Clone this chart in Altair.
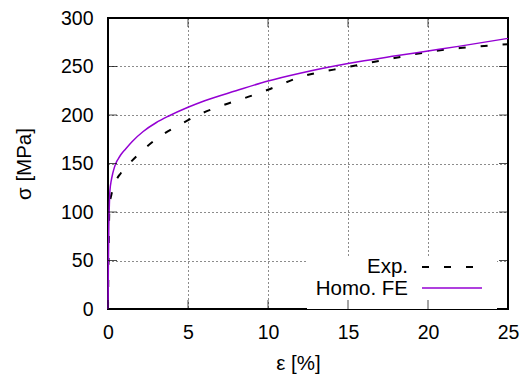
import altair as alt
import pandas as pd

# ---- data ----
fe_eps = [0, 0.02, 0.05, 0.08, 0.12, 0.2, 0.3, 0.4, 0.5, 0.65, 0.8, 1.1, 1.5, 2.2, 3, 3.8, 5, 6, 8, 10, 12, 15, 18, 20, 22, 25]
fe_sig = [0, 40, 85, 105, 122, 132, 140, 146, 150.5, 155, 159, 165, 172.5, 183, 192, 199, 208, 214.5, 225, 235, 243, 253, 261, 266, 271, 279]

exp_eps = [0, 0.03, 0.06, 0.1, 0.2, 0.44, 0.8, 1.25, 2.2, 3.25, 4.6, 5.9, 7, 9, 10, 12, 15, 18, 20, 22, 25]
exp_sig = [0, 50, 85, 108, 117, 130, 140, 148.5, 164, 178, 191, 202, 209, 220, 226, 239, 249.5, 259, 265, 269, 273]

x_ticks = [0, 5, 10, 15, 20, 25]
y_ticks = [0, 50, 100, 150, 200, 250, 300]
legend_labels = ["Exp.", "Homo. FE"]

W, H = 400, 291
FONT = "Liberation Sans"
FS = 19.5
LFS = 20.5
PURPLE = "#9400D3"
DASH = [7, 15]

fe_df = pd.DataFrame({"eps": fe_eps, "sig": fe_sig})
exp_df = pd.DataFrame({"eps": exp_eps, "sig": exp_sig})
xt_df = pd.DataFrame({"v": x_ticks})
yt_df = pd.DataFrame({"v": y_ticks})

xscale = alt.Scale(domain=[0, 25], nice=False, zero=False)
yscale = alt.Scale(domain=[0, 300], nice=False, zero=False)

common = dict(grid=True, gridDash=[1, 3], gridColor="#000", gridOpacity=0.9,
              domain=False, ticks=False, labelFlush=False, labelOverlap=False,
              labelFontSize=FS, titleFontSize=LFS, labelFont=FONT, titleFont=FONT,
              titleFontWeight="normal", labelColor="#000", titleColor="#000")
xaxis = alt.Axis(values=x_ticks, title="ε [%]", labelPadding=14, titlePadding=12,
                 titleX=190, **common)
yaxis = alt.Axis(values=y_ticks, title="σ [MPa]", labelPadding=15, titlePadding=26,
                 **common)

base_grid = alt.Chart(fe_df).mark_line(opacity=0).encode(
    x=alt.X("eps:Q", scale=xscale, axis=xaxis),
    y=alt.Y("sig:Q", scale=yscale, axis=yaxis),
)

legend_bg = alt.Chart(fe_df.head(1)).mark_rect(fill="white").encode(
    x=alt.value(199), x2=alt.value(389), y=alt.value(239), y2=alt.value(291)
)

exp_line = alt.Chart(exp_df).mark_line(color="#000", strokeWidth=2, strokeDash=DASH,
                                       interpolate="monotone").encode(
    x=alt.X("eps:Q", scale=xscale), y=alt.Y("sig:Q", scale=yscale), order="eps:Q"
)
fe_line = alt.Chart(fe_df).mark_line(color=PURPLE, strokeWidth=1.5,
                                     interpolate="monotone").encode(
    x=alt.X("eps:Q", scale=xscale), y=alt.Y("sig:Q", scale=yscale), order="eps:Q"
)

tick_len = 9
xt_bottom = alt.Chart(xt_df).mark_tick(color="#000", size=tick_len, thickness=1).encode(
    x=alt.X("v:Q", scale=xscale), y=alt.value(H - tick_len / 2))
xt_top = alt.Chart(xt_df).mark_tick(color="#000", size=tick_len, thickness=1).encode(
    x=alt.X("v:Q", scale=xscale), y=alt.value(tick_len / 2))
yt_left = alt.Chart(yt_df).mark_tick(color="#000", size=tick_len, thickness=1).encode(
    y=alt.Y("v:Q", scale=yscale), x=alt.value(tick_len / 2))
yt_right = alt.Chart(yt_df).mark_tick(color="#000", size=tick_len, thickness=1).encode(
    y=alt.Y("v:Q", scale=yscale), x=alt.value(W - tick_len / 2))

leg_df = pd.DataFrame({"label": legend_labels})
leg_exp_text = alt.Chart(leg_df.iloc[[0]]).mark_text(
    align="right", baseline="middle", font=FONT, fontSize=LFS, color="#000").encode(
    text="label:N", x=alt.value(300), y=alt.value(249))
leg_fe_text = alt.Chart(leg_df.iloc[[1]]).mark_text(
    align="right", baseline="middle", font=FONT, fontSize=LFS, color="#000").encode(
    text="label:N", x=alt.value(300), y=alt.value(271))
leg_exp_line = alt.Chart(leg_df.iloc[[0]]).mark_rule(color="#000", strokeWidth=2, strokeDash=DASH).encode(
    x=alt.value(314), x2=alt.value(374), y=alt.value(249))
leg_fe_line = alt.Chart(leg_df.iloc[[1]]).mark_rule(color=PURPLE, strokeWidth=1.5).encode(
    x=alt.value(314), x2=alt.value(374), y=alt.value(270))

chart = alt.layer(
    base_grid, legend_bg, exp_line, fe_line,
    xt_bottom, xt_top, yt_left, yt_right,
    leg_exp_text, leg_fe_text, leg_exp_line, leg_fe_line,
).properties(
    width=W, height=H,
    padding={"left": 108, "top": 18, "right": 16, "bottom": 65},
    autosize=alt.AutoSizeParams(type="none"),
    background="white",
).configure_view(stroke="#000", strokeWidth=2)

chart.save("out.html", embed_options={"renderer": "svg", "actions": False})
